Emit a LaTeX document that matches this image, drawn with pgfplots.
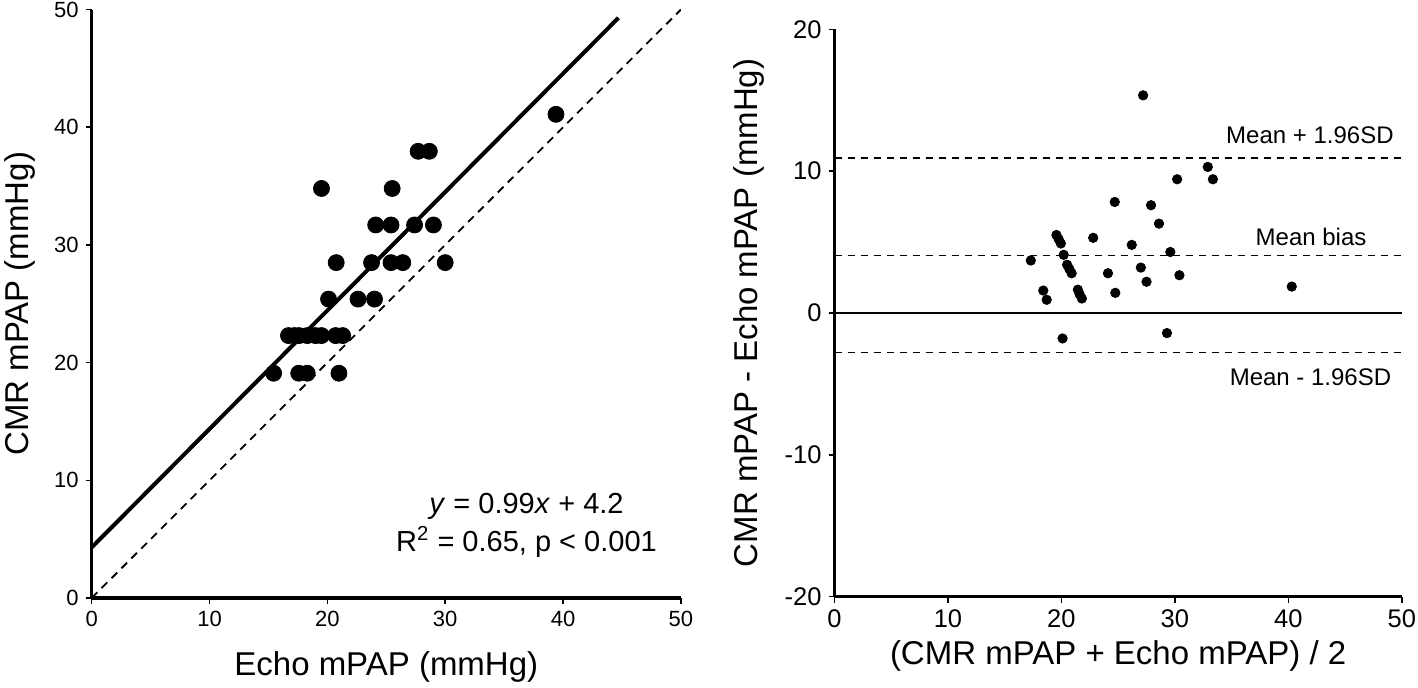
\documentclass[border=0pt]{standalone}
\usepackage{fontspec}
\setmainfont{Liberation Sans}
\usepackage{pgfplots}
\pgfplotsset{compat=1.18}

\pgfplotsset{
  panel/.style={
    scale only axis,
    anchor=south west,
    axis lines*=left,
    axis line style={line width=1.6pt},
    tick align=outside,
    major tick length=3pt,
    tick style={line width=0.8pt, black},
    tick label style={font=\fontsize{11}{13}\selectfont},
    label style={font=\fontsize{16.5}{19}\selectfont},
    xmin=0, xmax=50,
    xtick={0,10,20,30,40,50},
    xticklabels={0,10,20,30,40,50},
  },
}

\begin{document}
\begin{tikzpicture}
\path[use as bounding box] (0,0) rectangle (709pt,343.5pt);

% left: correlation
\begin{axis}[
  panel,
  at={(45.85pt,44.5pt)},
  width=294.6pt, height=294.2pt,
  ymin=0, ymax=50,
  ytick={0,10,20,30,40,50},
  yticklabels={0,10,20,30,40,50},
  xlabel={Echo mPAP (mmHg)},
  ylabel={CMR mPAP (mmHg)},
  xlabel style={at={(axis description cs:0.5,-0.1173)}, anchor=center},
  ylabel style={at={(axis description cs:-0.1222,0.5)}, anchor=center},
]
\addplot[black, line width=0.9pt, dash pattern=on 4pt off 3pt] coordinates {(0,0) (50,50)};
\addplot[black, line width=2pt] coordinates {(0,4.3) (44.7,49.3)};
\addplot[only marks, mark=*, mark size=4pt, black] coordinates {
  (15.44,19.1) (17.57,19.1) (18.29,19.1) (20.98,19.1)
  (16.7,22.3) (17.2,22.3) (17.6,22.3) (18.3,22.3) (19.0,22.3) (19.5,22.3) (20.7,22.3) (21.3,22.3)
  (20.1,25.4) (22.6,25.4) (24.0,25.4)
  (20.75,28.5) (23.75,28.5) (25.4,28.5) (26.4,28.5) (30.0,28.5)
  (24.1,31.7) (25.4,31.7) (27.4,31.7) (29.0,31.7)
  (19.5,34.8) (25.5,34.8)
  (27.7,37.96) (28.65,37.96)
  (39.4,41.1)
};
\node[align=center, font=\fontsize{14.5}{19}\selectfont] at (axis cs:36.9,6.2)
  {\textit{y} = 0.99\textit{x} + 4.2\\R\textsuperscript{2} = 0.65, p < 0.001};
\end{axis}

% right: Bland-Altman
\begin{axis}[
  panel,
  at={(417.25pt,45.25pt)},
  width=283.65pt, height=283.55pt,
  tick label style={font=\fontsize{12.75}{15}\selectfont},
  ymin=-20, ymax=20,
  ytick={-20,-10,0,10,20},
  yticklabels={-20,-10,0,10,20},
  xlabel={(CMR mPAP + Echo mPAP) / 2},
  ylabel={CMR mPAP - Echo mPAP (mmHg)},
  xlabel style={at={(axis description cs:0.5,-0.1049)}, anchor=center},
  ylabel style={at={(axis description cs:-0.1507,0.5)}, anchor=center},
]
\addplot[black, line width=1pt] coordinates {(0,0) (50,0)};
\addplot[black, line width=0.8pt, dash pattern=on 3.5pt off 3pt] coordinates {(0,10.92) (50,10.92)};
\addplot[black, line width=0.8pt, dash pattern=on 3.5pt off 3pt] coordinates {(0,4.05) (50,4.05)};
\addplot[black, line width=0.8pt, dash pattern=on 3.5pt off 3pt] coordinates {(0,-2.78) (50,-2.78)};
\addplot[only marks, mark=*, mark size=2.35pt, black] coordinates {
  (27.2,15.35) (32.9,10.3) (30.2,9.43) (33.35,9.43) (24.7,7.83) (27.9,7.6)
  (28.6,6.3) (19.56,5.5) (19.76,5.2) (19.95,4.9) (22.8,5.3) (26.2,4.8)
  (20.2,4.1) (29.6,4.3) (17.3,3.7) (20.5,3.4) (20.7,3.1) (20.9,2.8)
  (27.0,3.2) (24.1,2.8) (30.4,2.66) (27.5,2.2) (40.3,1.86) (18.4,1.58)
  (18.7,0.93) (21.45,1.64) (21.6,1.33) (21.8,1.02) (24.75,1.42)
  (20.1,-1.8) (29.3,-1.42)
};
\node[font=\fontsize{12}{14}\selectfont] at (axis cs:41.9,12.53) {Mean + 1.96SD};
\node[font=\fontsize{12}{14}\selectfont] at (axis cs:42.0,5.35) {Mean bias};
\node[font=\fontsize{12}{14}\selectfont] at (axis cs:41.95,-4.51) {Mean - 1.96SD};
\end{axis}
\end{tikzpicture}
\end{document}
